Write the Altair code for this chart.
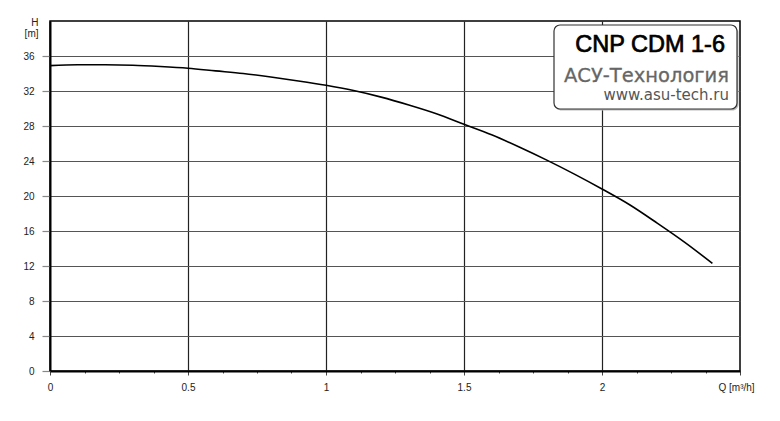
import altair as alt
import pandas as pd

# Pump curve H(Q)
q_values = [0.0, 0.1, 0.2, 0.3, 0.4, 0.5, 0.6, 0.7, 0.8, 0.9, 1.0, 1.1, 1.2,
            1.3, 1.4, 1.5, 1.6, 1.7, 1.8, 1.9, 2.0, 2.1, 2.2, 2.3, 2.4]
h_values = [34.9, 35.0, 35.0, 34.95, 34.8, 34.6, 34.3, 34.0, 33.6, 33.15, 32.65,
            32.05, 31.3, 30.4, 29.4, 28.2, 27.0, 25.6, 24.1, 22.5, 20.8, 19.0,
            16.9, 14.7, 12.3]

x_tick_values = [i * 0.125 for i in range(21)]   # 0 .. 2.5, minor every 0.125
y_tick_values = [0, 4, 8, 12, 16, 20, 24, 28, 32, 36]

title_lines = ["CNP CDM 1-6", "АСУ-Технология", "www.asu-tech.ru"]

df = pd.DataFrame({"Q": q_values, "H": h_values})

W, H = 690, 350

x_axis = alt.Axis(
    values=x_tick_values,
    labelExpr="(datum.value % 0.5 == 0 && datum.value < 2.5) ? ('' + datum.value) : ''",
    labelFont="Liberation Sans", labelFontSize=10, labelColor="#222",
    labelPadding=7, labelFlush=False,
    tickSize={"expr": "datum.value % 0.5 == 0 ? 4 : 2"},
    tickColor="#444", tickWidth=1,
    grid=True,
    gridOpacity={"expr": "(datum.value % 0.5 == 0 && datum.value > 0 && datum.value < 2.5) ? 1 : 0"},
    gridColor="#222", gridWidth=1.2,
    domainColor="#000", domainWidth=2,
    title="Q [m³/h]", titleFont="Liberation Sans", titleFontSize=10,
    titleFontWeight="normal", titleColor="#222",
    titleAlign="left", titleBaseline="alphabetic", titleAnchor="start",
    titleX=668, titleY=19,
)

y_axis = alt.Axis(
    values=y_tick_values,
    labelFont="Liberation Sans", labelFontSize=10, labelColor="#222",
    labelPadding=8,
    tickSize=8, tickColor="#888", tickWidth=1.2,
    grid=True, gridColor="#555", gridWidth=1.1,
    domainColor="#000", domainWidth=2,
    title=["H", "[m]"], titleFont="Liberation Sans", titleFontSize=10,
    titleFontWeight="normal", titleColor="#222", titleAngle=0,
    titleAlign="right", titleBaseline="alphabetic", titleLineHeight=11,
    titleX=-12, titleY=4,
)

line = alt.Chart(df).mark_line(color="#000", strokeWidth=1.6, interpolate="monotone").encode(
    x=alt.X("Q:Q", scale=alt.Scale(domain=[0, 2.5], nice=False), axis=x_axis),
    y=alt.Y("H:Q", scale=alt.Scale(domain=[0, 40], nice=False), axis=y_axis),
)

one = alt.Data(values=[{"k": 1}])

shadow = alt.Chart(one).mark_rect(fill="#bbb", cornerRadius=6).encode(
    x=alt.value(505.5), x2=alt.value(688.5), y=alt.value(5.5), y2=alt.value(89.5)
)
box = alt.Chart(one).mark_rect(fill="white", stroke="#333", strokeWidth=1.2, cornerRadius=6).encode(
    x=alt.value(504), x2=alt.value(687), y=alt.value(4), y2=alt.value(88)
)
t1 = alt.Chart(one).mark_text(text=title_lines[0], font="Liberation Sans", fontSize=23.5,
                              color="#000", stroke="#000", strokeWidth=0.7,
                              align="right", baseline="alphabetic").encode(
    x=alt.value(675), y=alt.value(31)
)
t2 = alt.Chart(one).mark_text(text=title_lines[1], font="DejaVu Sans", fontSize=19.5,
                              color="#666", stroke="#666", strokeWidth=0.3,
                              align="right", baseline="alphabetic").encode(
    x=alt.value(679), y=alt.value(60.5)
)
t3 = alt.Chart(one).mark_text(text=title_lines[2], font="DejaVu Sans", fontSize=15,
                              color="#555", align="right", baseline="alphabetic").encode(
    x=alt.value(679), y=alt.value(79)
)

chart = alt.layer(line, shadow, box, t1, t2, t3).properties(
    width=W, height=H,
    autosize=alt.AutoSizeParams(type="none"),
    padding={"left": 42, "top": 13, "right": 30, "bottom": 40},
    background="white",
).configure_view(stroke="#000", strokeWidth=1.5)

chart.save("out.html", embed_options={"renderer": "svg", "actions": False})
